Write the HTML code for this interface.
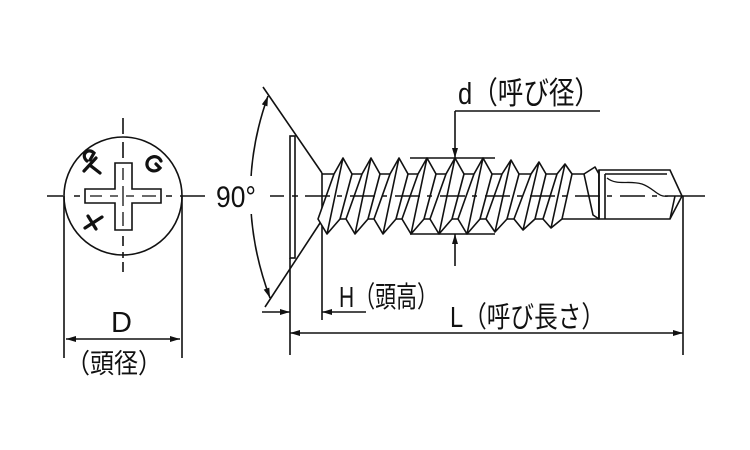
<!DOCTYPE html>
<html><head><meta charset="utf-8"><style>
html,body{margin:0;padding:0;background:#fff;}
svg{display:block}
text{font-family:"Liberation Sans","Noto Sans CJK JP",sans-serif;fill:#111}
</style></head><body>
<svg width="750" height="450" viewBox="0 0 750 450" xmlns="http://www.w3.org/2000/svg">
<defs>
<marker id="a" viewBox="0 0 10 6" refX="10" refY="3" markerWidth="11" markerHeight="6" orient="auto-start-reverse" markerUnits="userSpaceOnUse"><path d="M0,0L10,3L0,6z" fill="#111"/></marker>
</defs>
<g stroke="#111" stroke-width="1.6" fill="none">
<circle cx="123" cy="196" r="59" fill="#fff"/>
<path d="M47,196H63M74,196H80M87,196H103M110,196H118M126,196H134M142,196H160M166,196H172M180,196H205" />
<path d="M123,118V134M123,142V158M123,165V170M123,222V228M123,236V246M123,252V258M123,262V272"/>
<path d="M85,189H115V163H132V189H161V203H132V230H115V203H85Z" fill="#fff"/>
<path d="M90,196H102M110,196H118M126,196H134M142,196H156M123,168V180M123,186V206M123,212V226" stroke-width="1.3"/>
<path d="M64,196V358M182,196V358"/>
<line x1="66" y1="339" x2="180" y2="339" marker-start="url(#a)" marker-end="url(#a)"/>
<g stroke-width="3.2" stroke-linecap="round">
<path d="M84,171l12,-13M87,161c-7,-6 1,-14 7,-8l-4,7M91,166l9,7"/>
<path d="M161,161c-3,-7 -13,-5 -14,2c-1,7 8,11 13,5l-4,-4"/>
<path d="M85,228l17,-11M88,216l8,13"/>
</g>
<path d="M263,87L322,173M322,220L265,307"/>
<rect x="290" y="136" width="5" height="122" fill="#fff"/>
<path d="M322,173V320M290,258V355"/>
<path d="M322,174H599M322,219H599"/>
<g fill="#fff" stroke-linejoin="round">
<path d="M343,158L352,174L340,219L327,234L318,219L334,174Z M343,158L327,234"/>
<path d="M371,158L380,174L368,219L355,234L346,219L362,174Z M371,158L355,234"/>
<path d="M399,158L408,174L396,219L383,234L374,219L390,174Z M399,158L383,234"/>
<path d="M427,158L436,174L424,219L411,234L402,219L418,174Z M427,158L411,234"/>
<path d="M455,158L464,174L452,219L439,234L430,219L446,174Z M455,158L439,234"/>
<path d="M483,158L492,174L480,219L467,234L458,219L474,174Z M483,158L467,234"/>
<path d="M511,160L519,174L507,219L495,232L486,219L502,174Z M511,160L495,232"/>
<path d="M539,162L546,174L535,219L523,230L514,219L531,174Z M539,162L523,230"/>
<path d="M565,164L572,174L562,219L551,228L543,219L557,174Z M565,164L551,228"/>
<path d="M595,167L599,174L599,219L593,215L584,174Z"/>
</g>
<path d="M599,170H670L682,196L670,219H599Z" fill="#fff"/>
<path d="M599,170V219M605,174V219M605,174H667M675,196L670,219"/>
<path d="M607,178c10,8 22,2 35,6c12,4 16,14 26,12" stroke-width="1.3"/>
<path d="M270,196H284M292,196H298M305,196H330M337,196H342M350,196H375M382,196H387M395,196H420M427,196H432M440,196H465M472,196H477M485,196H510M517,196H522M530,196H555M562,196H567M575,196H600M607,196H612M620,196H645M652,196H657M665,196H705"/>
<path d="M410,158H495M410,234H495"/>
<path d="M600,111H455"/>
<line x1="455" y1="111" x2="455" y2="158" marker-end="url(#a)"/>
<line x1="455" y1="266" x2="455" y2="234" marker-end="url(#a)"/>
<path d="M268,96 Q232,196 270,298" marker-start="url(#a)" marker-end="url(#a)"/>
<line x1="262" y1="312" x2="290" y2="312" marker-end="url(#a)"/>
<line x1="366" y1="312" x2="322" y2="312" marker-end="url(#a)"/>
<path d="M683,196V355"/>
<line x1="290" y1="333" x2="683" y2="333" marker-start="url(#a)" marker-end="url(#a)"/>
</g>
<rect x="210" y="176" width="46" height="38" fill="#fff"/>
<text x="216" y="207" font-size="30" textLength="40" lengthAdjust="spacingAndGlyphs">90°</text>
<text x="111" y="332" font-size="29">D</text>
<text x="66" y="373" font-size="27" textLength="96" lengthAdjust="spacingAndGlyphs">（頭径）</text>
<text x="458" y="104" font-size="31" textLength="142" lengthAdjust="spacingAndGlyphs">d（呼び径）</text>
<text x="339" y="307" font-size="29" textLength="99" lengthAdjust="spacingAndGlyphs">H（頭高）</text>
<text x="450" y="327" font-size="29" textLength="155" lengthAdjust="spacingAndGlyphs">L（呼び長さ）</text>
</svg>
</body></html>
